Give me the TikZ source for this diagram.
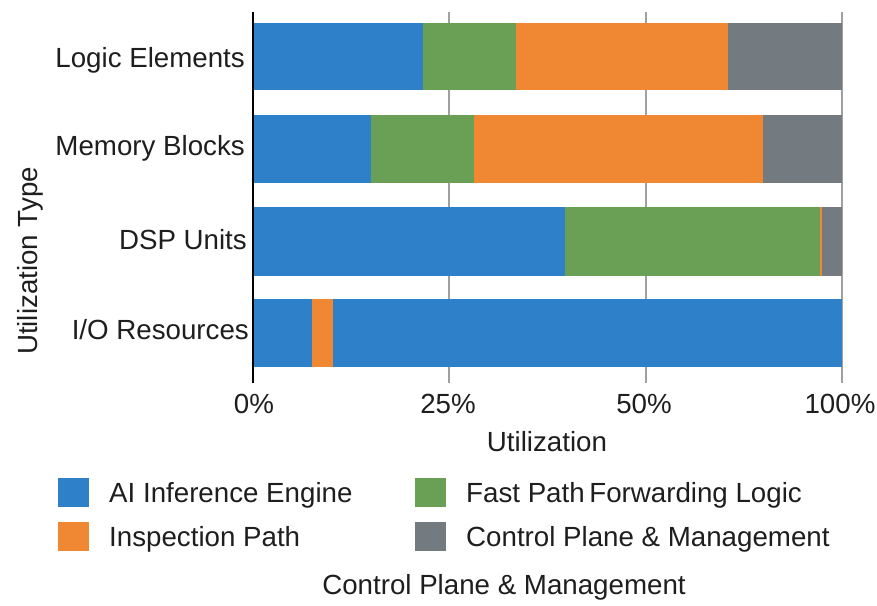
\documentclass[tikz,border=0pt]{standalone}
\usepackage{fontspec}
\setmainfont{Liberation Sans}
\definecolor{engine}{RGB}{46,128,200}
\definecolor{fastpath}{RGB}{106,160,86}
\definecolor{inspect}{RGB}{240,135,50}
\definecolor{ctrlplane}{RGB}{115,122,128}
\definecolor{gridc}{RGB}{160,160,160}
\definecolor{ink}{RGB}{30,30,30}
\begin{document}
\begin{tikzpicture}[x=1pt,y=-1pt,
  lbl/.style={font=\fontsize{27.7}{33}\selectfont, text=ink, inner sep=0pt},
  grid line/.style={draw=gridc, line width=1.2pt},
  keybox/.style={minimum width=31pt, minimum height=29pt, inner sep=0pt}]
\useasboundingbox[fill=white] (0,0) rectangle (877,605);

% vertical grid lines
\draw[grid line] (449,12) -- (449,383);
\draw[grid line] (646,12) -- (646,383);
\draw[grid line] (842,12) -- (842,383);

% Logic Elements
\fill[engine]    (253,23) rectangle (423,90);
\fill[fastpath]  (423,23) rectangle (516,90);
\fill[inspect]   (516,23) rectangle (728,90);
\fill[ctrlplane] (728,23) rectangle (842,90);
% Memory Blocks
\fill[engine]    (253,115) rectangle (371,183);
\fill[fastpath]  (371,115) rectangle (474,183);
\fill[inspect]   (474,115) rectangle (763,183);
\fill[ctrlplane] (763,115) rectangle (842,183);
% DSP Units
\fill[engine]    (253,207) rectangle (565,276);
\fill[fastpath]  (565,207) rectangle (820,276);
\fill[inspect]   (820,207) rectangle (821.5,276);
\fill[ctrlplane] (821.5,207) rectangle (842,276);
% I/O Resources
\fill[engine]    (253,299) rectangle (312,367);
\fill[inspect]   (312,299) rectangle (333,367);
\fill[engine]    (333,299) rectangle (842,367);

% value axis line
\draw[black, line width=1.5pt] (253,12) -- (253,383);

% category labels
\node[lbl, anchor=base east] (c1) at (245,67)  {Logic Elements};
\node[lbl, anchor=base east] (c2) at (245,155) {Memory Blocks};
\node[lbl, anchor=base east] (c3) at (247,249) {DSP Units};
\node[lbl, anchor=base east] (c4) at (249,339) {I/O Resources};

% tick labels
\node[lbl, anchor=base] (t0) at (254,413) {0\%};
\node[lbl, anchor=base] (t1) at (448,413) {25\%};
\node[lbl, anchor=base] (t2) at (644,413) {50\%};
\node[lbl, anchor=base] (t3) at (840,413) {100\%};

% axis titles
\node[lbl, anchor=base] (xt) at (547,451) {Utilization};
\node[lbl, anchor=base, rotate=90] (yt) at (37,261) {Utilization Type};

% legend
\node[keybox, fill=engine]    (k1) at (73.5,492.5) {};
\node[keybox, fill=inspect]   (k2) at (73.5,536.5) {};
\node[keybox, fill=fastpath]  (k3) at (430.5,492.5) {};
\node[keybox, fill=ctrlplane] (k4) at (430.5,536.5) {};
\node[lbl, anchor=base west] (l1) at (109,502) {AI Inference Engine};
\node[lbl, anchor=base west] (l2) at (109,546) {Inspection Path};
\node[lbl, anchor=base west] (l3) at (466,502) {Fast Path\,Forwarding Logic};
\node[lbl, anchor=base west] (l4) at (466,546) {Control Plane \& Management};

% caption
\node[lbl, anchor=base] (cap) at (504,594) {Control Plane \& Management};
\end{tikzpicture}
\end{document}
